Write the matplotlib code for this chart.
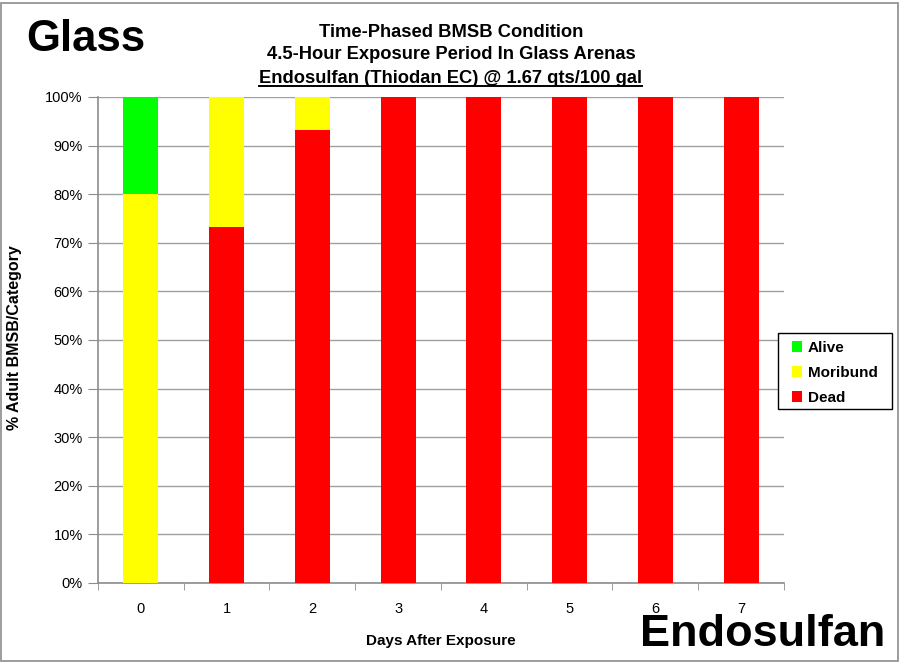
import matplotlib
matplotlib.use("Agg")
import matplotlib.pyplot as plt
from matplotlib.patches import Rectangle
from matplotlib.lines import Line2D
from matplotlib.ticker import MultipleLocator, FuncFormatter, FixedLocator, NullFormatter

plt.rcParams['font.family'] = ['Liberation Sans', 'DejaVu Sans']

days = ['0', '1', '2', '3', '4', '5', '6', '7']
dead = [0.0, 73.3, 93.3, 100.0, 100.0, 100.0, 100.0, 100.0]
moribund = [80.0, 26.7, 6.7, 0.0, 0.0, 0.0, 0.0, 0.0]
alive = [20.0, 0.0, 0.0, 0.0, 0.0, 0.0, 0.0, 0.0]

W, H = 904, 663
fig = plt.figure(figsize=(W / 100, H / 100), dpi=100)


def fx(px):
    return px / W


def fy(py):
    return 1 - py / H


# outer frame
fig.patches.append(Rectangle((fx(1), fy(661)), 897 / W, 658 / H, transform=fig.transFigure,
                             fill=False, edgecolor='#8c8c8c', linewidth=1.2))

ax = fig.add_axes([fx(98), fy(583), 686 / W, 486 / H])
x = range(len(days))
width = 0.41
ax.bar(x, dead, width, color='#FF0000', label='Dead', zorder=3)
ax.bar(x, moribund, width, bottom=dead, color='#FFFF00', label='Moribund', zorder=3)
base2 = [d + m for d, m in zip(dead, moribund)]
ax.bar(x, alive, width, bottom=base2, color='#00FF00', label='Alive', zorder=3)

ax.set_xlim(-0.5, len(days) - 0.5)
ax.set_ylim(0, 100)
ax.yaxis.set_major_locator(MultipleLocator(10))
ax.yaxis.set_major_formatter(FuncFormatter(lambda v, p: f"{int(round(v))}%"))
ax.grid(axis='y', color='#a0a0a0', linewidth=1.0, zorder=0)
ax.set_axisbelow(True)

ax.set_xticks(list(x))
ax.set_xticklabels(days)
ax.xaxis.set_minor_locator(FixedLocator([i - 0.5 for i in range(len(days) + 1)]))
ax.xaxis.set_minor_formatter(NullFormatter())
ax.tick_params(axis='x', which='major', length=0, pad=14, labelsize=10.5)
ax.tick_params(axis='x', which='minor', length=5, direction='out', color='#8c8c8c')
ax.tick_params(axis='y', length=7, direction='out', color='#8c8c8c', labelsize=10.5, pad=4)

for s in ['top', 'right']:
    ax.spines[s].set_visible(False)
for s in ['left', 'bottom']:
    ax.spines[s].set_color('#8c8c8c')
    ax.spines[s].set_linewidth(1.2)

ax.set_xlabel('Days After Exposure', fontsize=11, fontweight='bold', labelpad=13)
ax.set_ylabel('% Adult BMSB/Category', fontsize=11.5, fontweight='bold')
ax.yaxis.set_label_coords((22 - 98) / 686, (583 - 338) / 486)

# legend: white box drawn separately, entries placed inside it
fig.patches.append(Rectangle((fx(778), fy(409)), 114 / W, 76 / H, transform=fig.transFigure,
                             facecolor='white', edgecolor='black', linewidth=1.0, zorder=4))
handles, labels = ax.get_legend_handles_labels()
leg = fig.legend(handles[::-1], labels[::-1], loc='upper left',
                 bbox_to_anchor=(fx(792), fy(341)), prop={'size': 11, 'weight': 'bold'},
                 frameon=False, handlelength=0.68, handleheight=0.68, handletextpad=0.35,
                 labelspacing=0.72, borderpad=0, borderaxespad=0)
leg.set_zorder(5)

# titles
tx = fx(451)
fig.text(tx, fy(36.7), 'Time-Phased BMSB Condition', ha='center', va='baseline',
         fontsize=13.2, fontweight='bold')
fig.text(tx, fy(59.3), '4.5-Hour Exposure Period In Glass Arenas', ha='center', va='baseline',
         fontsize=13.2, fontweight='bold')
t3 = fig.text(tx, fy(82.7), 'Endosulfan (Thiodan EC) @ 1.67 qts/100 gal', ha='center',
              va='baseline', fontsize=13.2, fontweight='bold')

fig.text(fx(86), fy(51), 'Glass', ha='center', va='baseline', fontsize=31.5,
         fontweight='bold')
fig.text(fx(763), fy(646), 'Endosulfan', ha='center', va='baseline', fontsize=32.5,
         fontweight='bold')

fig.canvas.draw()
bb = t3.get_window_extent(renderer=fig.canvas.get_renderer())
uy = fy(86)
fig.lines.append(Line2D([bb.x0 / W, bb.x1 / W], [uy, uy], transform=fig.transFigure,
                        color='black', linewidth=1.4))

fig.savefig('out.png', dpi=100)
